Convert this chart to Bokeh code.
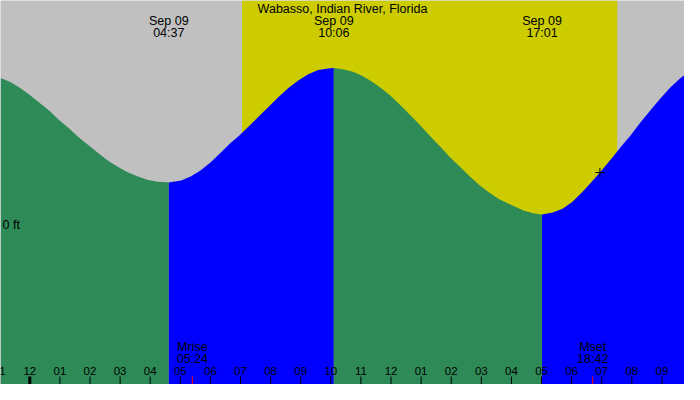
from bokeh.plotting import figure
from bokeh.models import Range1d
from bokeh.core.properties import value
from bokeh.embed import file_html
from bokeh.resources import INLINE

station = "Wabasso, Indian River, Florida"
day_label = "Sep 09"

# tide curve: hours from midnight Sep 09, height in ft
tide_hours = [-0.97, -0.65, -0.33, 0.0, 0.33, 0.65, 0.97, 1.3, 1.62, 1.95,
              2.27, 2.6, 2.92, 3.25, 3.57, 3.9, 4.22, 4.55, 4.617,
              5.03, 5.36, 5.68, 6.01, 6.33, 6.66, 6.98, 7.31, 7.63, 7.96,
              8.28, 8.6, 8.93, 9.25, 9.58, 9.9, 10.1,
              10.39, 10.71, 11.04, 11.36, 11.69, 12.01, 12.34, 12.66, 12.99,
              13.31, 13.64, 13.96, 14.29, 14.61, 14.94, 15.26, 15.58, 15.91,
              16.4, 16.72, 17.017,
              17.37, 17.7, 18.02, 18.34, 18.67, 18.94, 19.32, 19.64, 19.97,
              20.29, 20.62, 20.94, 21.27, 21.59, 21.75]
tide_ft = [0.383, 0.373, 0.358, 0.339, 0.318, 0.298, 0.274, 0.252, 0.229, 0.208,
           0.188, 0.168, 0.152, 0.138, 0.127, 0.118, 0.113, 0.112, 0.111,
           0.116, 0.127, 0.143, 0.164, 0.188, 0.213, 0.235, 0.260, 0.285, 0.310,
           0.335, 0.358, 0.377, 0.393, 0.404, 0.408, 0.409,
           0.406, 0.400, 0.389, 0.374, 0.356, 0.335, 0.310, 0.285, 0.258,
           0.231, 0.204, 0.177, 0.152, 0.127, 0.104, 0.085, 0.068, 0.056,
           0.038, 0.031, 0.028,
           0.033, 0.043, 0.060, 0.085, 0.113, 0.137, 0.173, 0.204, 0.235,
           0.268, 0.299, 0.329, 0.358, 0.381, 0.391]

extreme_times = ["04:37", "10:06", "17:01"]
sunrise, sunset = "07:03", "19:31"
moon_names = ["Mrise", "Mset"]
moon_times = ["05:24", "18:42"]
now_hour, now_ft = 18.94, 0.137

tick_hours = list(range(-1, 22))
tick_labels = ["11", "12", "01", "02", "03", "04", "05", "06", "07", "08", "09", "10",
               "11", "12", "01", "02", "03", "04", "05", "06", "07", "08", "09"]


def hrs(t):
    hh, mm = t.split(":")
    return int(hh) + int(mm) / 60


W, H = 684, 384
x_lo, x_hi = -0.974, 21.75
y_lo, y_hi = -0.415, 0.585
FONT = value("Liberation Sans")
GREY, DAY, FALL, RISE = "#C0C0C0", "#CCCC00", "#2E8B57", "#0000FF"

p = figure(width=W, height=H, x_range=Range1d(x_lo, x_hi), y_range=Range1d(y_lo, y_hi),
           x_axis_type=None, y_axis_type=None, toolbar_location=None,
           output_backend="svg", min_border=0, outline_line_color=None,
           background_fill_color=GREY, border_fill_color=GREY)

# daylight
p.quad(left=[hrs(sunrise)], right=[hrs(sunset)], bottom=[y_lo], top=[y_hi],
       fill_color=DAY, line_color=None)

# tide, green while falling, blue while rising
bounds = [tide_hours[0]] + [hrs(t) for t in extreme_times] + [tide_hours[-1]]
for a, b in zip(bounds[:-1], bounds[1:]):
    idx = [i for i, h in enumerate(tide_hours) if a - 0.01 <= h <= b + 0.01]
    xs = [tide_hours[i] for i in idx]
    ys = [tide_ft[i] for i in idx]
    col = FALL if ys[0] > ys[-1] else RISE
    p.varea(x=xs, y1=y_lo, y2=ys, fill_color=col)

# hour ticks along the bottom
tick_len = 8 * (y_hi - y_lo) / H
thin = [h for h in tick_hours if h % 24 != 0]
thick = [h for h in tick_hours if h % 24 == 0]
p.segment(x0=thin, y0=y_lo, x1=thin, y1=y_lo + tick_len, line_color="black", line_width=1)
p.segment(x0=thick, y0=y_lo, x1=thick, y1=y_lo + tick_len, line_color="black", line_width=3)
p.text(x=tick_hours, y=y_lo, text=tick_labels, y_offset=-14,
       text_align="center", text_baseline="middle",
       text_font=FONT, text_font_size="11.5px", text_color="black")

# moon rise / set
mx = [hrs(t) for t in moon_times]
p.segment(x0=mx, y0=y_lo, x1=mx, y1=y_lo + tick_len, line_color="red", line_width=1)
p.text(x=mx, y=y_lo, text=moon_names, y_offset=-38, text_align="center",
       text_baseline="middle", text_font=FONT, text_font_size="12.5px", text_color="black")
p.text(x=mx, y=y_lo, text=moon_times, y_offset=-26, text_align="center",
       text_baseline="middle", text_font=FONT, text_font_size="12.5px", text_color="black")

# high / low labels and title
ex = [hrs(t) for t in extreme_times]
p.text(x=[(x_lo + x_hi) / 2], y=[y_hi], text=[station], y_offset=8, text_align="center",
       text_baseline="middle", text_font=FONT, text_font_size="12.5px", text_color="black")
p.text(x=ex, y=y_hi, text=[day_label] * len(ex), y_offset=20, text_align="center",
       text_baseline="middle", text_font=FONT, text_font_size="12.5px", text_color="black")
p.text(x=ex, y=y_hi, text=extreme_times, y_offset=32, text_align="center",
       text_baseline="middle", text_font=FONT, text_font_size="12.5px", text_color="black")

p.text(x=[x_lo], y=[0], text=["0 ft"], x_offset=2, text_align="left",
       text_baseline="middle", text_font=FONT, text_font_size="12.5px", text_color="black")

# current time
p.scatter(x=[now_hour], y=[now_ft], marker="cross", size=9, line_color="black", line_width=1)

open("out.html", "w").write(file_html(p, INLINE))
